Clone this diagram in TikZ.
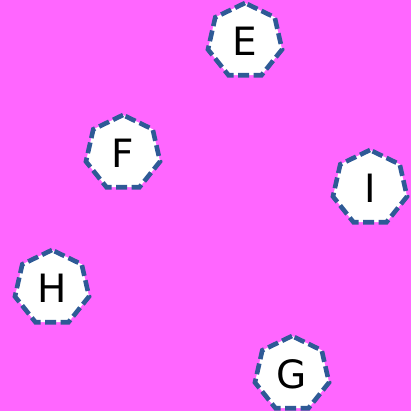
\documentclass[tikz,border=0pt]{standalone}
\usepackage{fontspec}
\setmainfont{DejaVu Sans}
\usetikzlibrary{shapes.geometric}
\definecolor{bgmag}{HTML}{FF66FF}
\definecolor{edgeblue}{HTML}{2E5A96}
\tikzset{
  hept/.style={regular polygon, regular polygon sides=7, minimum size=76pt, inner sep=0pt,
    draw=edgeblue, line width=4.6pt, dash pattern=on 11pt off 4.5pt, fill=white,
    font=\fontsize{39}{39}\selectfont, text=black}
}
\begin{document}
\begin{tikzpicture}[x=1pt,y=-1pt]
\fill[bgmag] (0,0) rectangle (411,411);
\useasboundingbox (0,0) rectangle (411,411);
\node[hept] (E) at (245,41) {E};
\node[hept] (F) at (123,153) {F};
\node[hept] (I) at (370,188) {I};
\node[hept] (H) at (52,288) {H};
\node[hept] (G) at (292,374) {G};
\end{tikzpicture}
\end{document}
